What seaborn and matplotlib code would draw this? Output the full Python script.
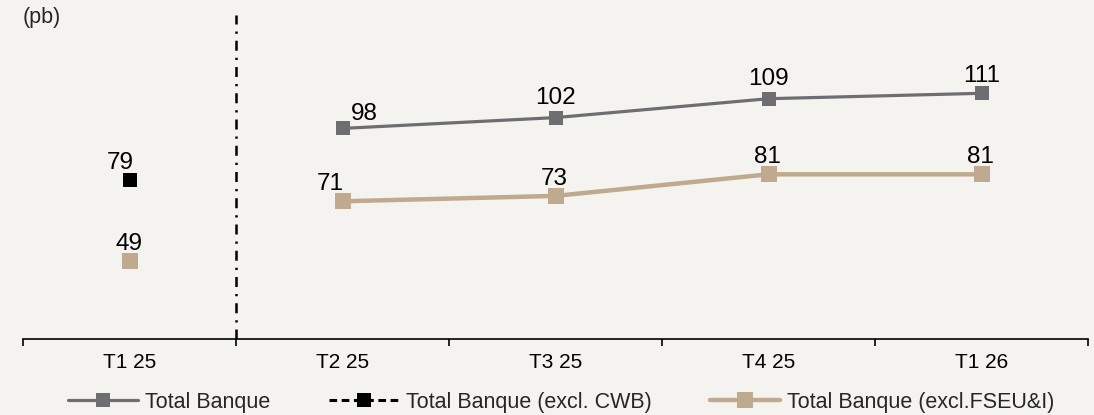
import numpy as np
import pandas as pd
import matplotlib
matplotlib.use("Agg")
import matplotlib.pyplot as plt
import seaborn as sns

quarters = ["T1 25", "T2 25", "T3 25", "T4 25", "T1 26"]
total_banque = [np.nan, 98, 102, 109, 111]
excl_cwb = [79, np.nan, np.nan, np.nan, np.nan]
excl_fseu = [49, 71, 73, 81, 81]
unit_label = "(pb)"
series_names = ["Total Banque", "Total Banque (excl. CWB)", "Total Banque (excl.FSEU&I)"]

BG = "#f5f3ef"
GREY = "#6e6e72"
BEIGE = "#bfa98f"
BLACK = "#000000"

sns.set_theme(style="white")
plt.rcParams["font.family"] = ["Liberation Sans", "DejaVu Sans"]

pos = np.arange(len(quarters))
df = pd.DataFrame({"pos": pos, "q": quarters, "total": total_banque,
                   "cwb": excl_cwb, "fseu": excl_fseu})

fig = plt.figure(figsize=(10.94, 4.15), dpi=100, facecolor=BG)
ax = fig.add_axes([23/1094, 1-339/415, (1088-23)/1094, (339-15)/415])
ax.set_facecolor(BG)

d_tot = df.dropna(subset=["total"])
sns.lineplot(data=d_tot, x="pos", y="total", ax=ax, color=GREY, lw=2.3,
             marker="s", markersize=9.5, markeredgewidth=0, label=series_names[0])
d_cwb = df.dropna(subset=["cwb"])
sns.lineplot(data=d_cwb, x="pos", y="cwb", ax=ax, color=BLACK, lw=2.2,
             linestyle=(0, (2.5, 1.5)), marker="s", markersize=10,
             markeredgewidth=0, label=series_names[1])
d_fs_line = df.iloc[1:]
sns.lineplot(data=d_fs_line, x="pos", y="fseu", ax=ax, color=BEIGE, lw=3.2,
             marker="s", markersize=12, markeredgewidth=0, label=series_names[2])
d_fs_pt = df.iloc[:1]
sns.lineplot(data=d_fs_pt, x="pos", y="fseu", ax=ax, color=BEIGE, lw=0,
             marker="s", markersize=12, markeredgewidth=0, legend=False)

# data labels
lab_fs = 17.5
tot_off = {1: (22, 14), 2: (0, 20), 3: (0, 20), 4: (0, 17)}
for i, v in enumerate(total_banque):
    if not np.isnan(v):
        ax.annotate(f"{v:.0f}", (pos[i], v), xytext=tot_off[i], textcoords="offset pixels",
                    ha="center", va="center", fontsize=lab_fs, color="black")
for i, v in enumerate(excl_cwb):
    if not np.isnan(v):
        ax.annotate(f"{v:.0f}", (pos[i], v), xytext=(-9, 17), textcoords="offset pixels",
                    ha="center", va="center", fontsize=lab_fs, color="black")
for i, v in enumerate(excl_fseu):
    off = (-12, 17) if i == 1 else (-1, 17)
    ax.annotate(f"{v:.0f}", (pos[i], v), xytext=off, textcoords="offset pixels",
                ha="center", va="center", fontsize=lab_fs, color="black")

# separator line
ax.axvline(0.5, color="black", lw=1.8, linestyle=(0, (4.0, 2.8, 0.9, 2.8)), zorder=1)

ax.set_xlim(-0.5, len(quarters) - 0.5)
ax.set_ylim(20, 140)
ax.set_xlabel("")
ax.set_ylabel("")
ax.set_yticks([])
ax.set_xticks(np.arange(-0.5, len(quarters)), labels=[""] * (len(quarters) + 1))
ax.set_xticks(pos, labels=quarters, minor=True)
ax.tick_params(axis="x", which="major", direction="out", length=5, width=1.2,
               color="black", bottom=True)
ax.tick_params(axis="x", which="minor", length=0, labelsize=15, pad=10,
               labelcolor="black")
for s in ["top", "right", "left"]:
    ax.spines[s].set_visible(False)
ax.spines["bottom"].set_color("black")
ax.spines["bottom"].set_linewidth(1.2)

fig.text(23/1094, 1-17/415, unit_label, fontsize=15.5, ha="left", va="center")

h, l = ax.get_legend_handles_labels()
leg = fig.legend(h, l, loc="center", bbox_to_anchor=(0.513, 1-402/415), ncol=3,
                 frameon=False, fontsize=15.5, handlelength=3.25, handletextpad=0.33,
                 columnspacing=2.7, numpoints=1)
if ax.get_legend() is not None:
    ax.get_legend().remove()

fig.savefig("out.png", dpi=100, facecolor=BG)
